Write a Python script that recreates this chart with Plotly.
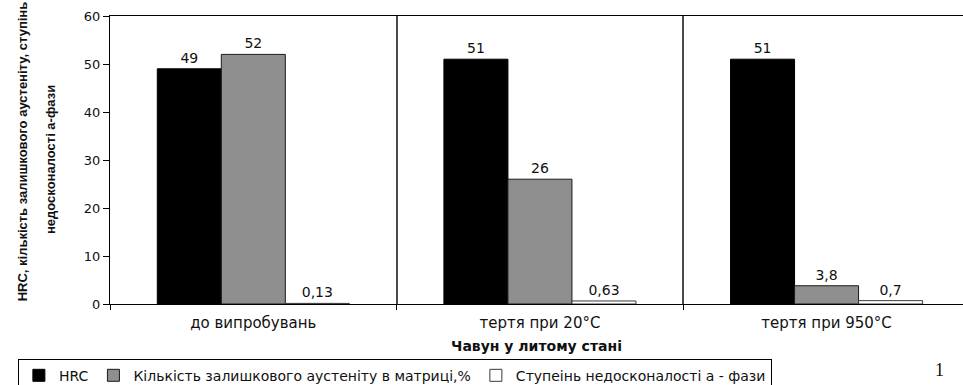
import plotly.graph_objects as go

categories = ["до випробувань", "тертя при 20°C", "тертя при 950°C"]
hrc = [49, 51, 51]
austenite = [52, 26, 3.8]
imperfection = [0.13, 0.63, 0.7]

series_names = [
    "HRC",
    "Кількість залишкового аустеніту в матриці,%",
    "Ступеінь недосконалості а - фази",
]
y_ticks = [0, 10, 20, 30, 40, 50, 60]
y_title_lines = ["HRC, кількість залишкового аустеніту, ступінь", "недосконалості a-фази"]


def label(values):
    return [f"{v:g}".replace(".", ",") for v in values]


FONT = "DejaVu Sans, Verdana, Arial, sans-serif"
NARROW = "Liberation Sans, Arial, sans-serif"
styles = [
    dict(color="#000000", line=dict(color="#000000", width=1)),
    dict(color="#8f8f8f", line=dict(color="#1a1a1a", width=1)),
    dict(color="#ffffff", line=dict(color="#3a3a3a", width=1)),
]

fig = go.Figure()
for name, vals, st in zip(series_names, [hrc, austenite, imperfection], styles):
    fig.add_trace(go.Bar(
        x=categories, y=vals, name=name,
        marker=st,
        text=label(vals), textposition="outside",
        textfont=dict(family=FONT, size=14, color="#111111"),
        cliponaxis=False,
    ))

fig.update_layout(
    width=963, height=385,
    margin=dict(l=110, r=0, t=16, b=81, autoexpand=False),
    paper_bgcolor="white", plot_bgcolor="white",
    barmode="group", bargap=0.33, bargroupgap=0,
    font=dict(family=FONT, size=13, color="#111111"),
    showlegend=True,
    legend=dict(
        orientation="h", x=-0.108, y=-0.19, xanchor="left", yanchor="top",
        bordercolor="#000000", borderwidth=1, bgcolor="white",
        font=dict(family=FONT, size=14, color="#111111"),
        itemwidth=30, tracegroupgap=0,
    ),
)

fig.update_xaxes(
    type="category", range=[-0.5, 2.476], automargin=False,
    tickson="boundaries", ticks="outside", ticklen=5, tickcolor="#000000",
    ticklabelstandoff=5,
    showgrid=True, gridcolor="#4a4a4a", gridwidth=2,
    showline=True, linecolor="#000000", linewidth=1, mirror=True,
    tickfont=dict(family=FONT, size=15, color="#111111"),
    title=dict(text="<b>Чавун у литому стані</b>", standoff=10,
               font=dict(family=FONT, size=14, color="#111111")),
)
fig.update_yaxes(
    range=[0, 60], tickvals=y_ticks, ticks="outside", ticklen=6, automargin=False,
    tickcolor="#000000", showgrid=False, zeroline=False,
    showline=True, linecolor="#000000", linewidth=1,
    tickfont=dict(family=FONT, size=13, color="#111111"),
)

for line, px, yc in zip(y_title_lines, [22, 50], [0.53, 0.5]):
    fig.add_annotation(
        text=f"<b>{line}</b>",
        xref="paper", yref="paper", x=(px - 110) / 853, y=yc,
        xanchor="center", yanchor="middle", textangle=-90, showarrow=False,
        font=dict(family=NARROW, size=13, color="#111111"),
    )
fig.add_annotation(
    text="1", xref="paper", yref="paper", x=0.973, y=-0.23,
    xanchor="center", yanchor="middle", showarrow=False,
    font=dict(family="Liberation Serif, serif", size=18, color="#111111"),
)

fig.write_html("out.html")
